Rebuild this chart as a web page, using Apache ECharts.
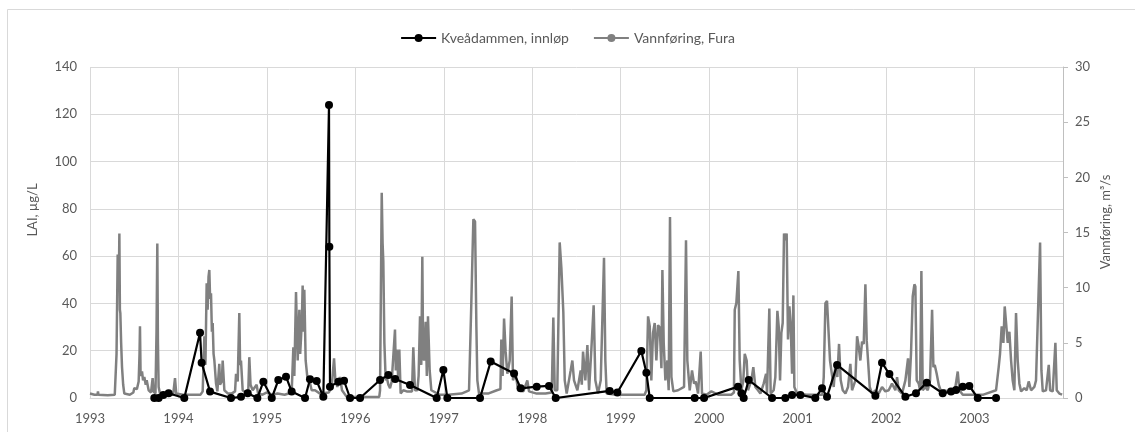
<!DOCTYPE html>
<html>
<head>
<meta charset="utf-8">
<script src="https://cdn.jsdelivr.net/npm/echarts@6/dist/echarts.min.js"></script>
<style>
html,body{margin:0;padding:0;background:#fff;}
#chart{width:1135px;height:432px;}
</style>
</head>
<body>
<div id="chart"></div>
<script>
// ---- DATA ----
const yearLabels = ['1993','1994','1995','1996','1997','1998','1999','2000','2001','2002','2003'];
const laiName = 'Kveådammen, innløp';
const flowName = 'Vannføring, Fura';

// LAI (µg/L) samples: [decimal year, value]
const laiData = [
  [1993.727,0],[1993.776,0],[1993.829,1.3],[1993.889,2],[1994.066,0],
  [1994.244,27.6],[1994.262,14.9],[1994.357,2.7],[1994.594,0],[1994.707,0.5],[1994.783,2],
  [1994.892,0],[1994.960,6.9],[1995.055,0],[1995.129,7.6],[1995.216,9.0],[1995.280,2.7],
  [1995.431,0],[1995.487,7.9],[1995.563,7.2],[1995.638,0.5],[1995.702,123.9],[1995.706,64],
  [1995.713,4.8],[1995.808,6.9],[1995.872,7.3],[1995.940,0],[1996.053,0],[1996.279,7.6],
  [1996.373,9.7],[1996.450,8],[1996.618,5.5],
  [1996.919,0],[1996.995,11.8],[1997.040,0],[1997.409,0],[1997.530,15.4],[1997.794,10.4],
  [1997.869,4.1],[1998.050,4.8],[1998.189,5.1],[1998.265,0],
  [1998.875,3.0],[1998.962,2.3],[1999.233,19.9],[1999.290,10.7],[1999.328,0],
  [1999.836,0],[1999.942,0],[2000.326,4.8],[2000.364,2],
  [2000.390,0],[2000.447,7.6],[2000.711,0],[2000.861,0],[2000.937,1.3],[2001.031,1.3],
  [2001.200,0],[2001.276,4.1],[2001.332,0.5],[2001.446,14],[2001.879,1],[2001.954,14.9],
  [2002.037,10.1],[2002.218,0.5],
  [2002.338,2],[2002.460,6.5],[2002.640,2],[2002.734,2.7],[2002.791,3.4],[2002.867,4.8],
  [2002.941,5.1],[2003.036,0],[2003.243,0]
];

// Flow (m³/s) samples: [decimal year, value]
const flowData = [
  [1993.000,0.4],[1993.050,0.3],[1993.085,0.3],[1993.090,0.6],[1993.095,0.3],[1993.200,0.25],
  [1993.280,0.3],[1993.300,4],[1993.313,13.0],[1993.325,10],[1993.332,14.9],[1993.338,8],
  [1993.343,7.7],[1993.352,5],[1993.362,2.8],[1993.375,1.2],[1993.388,0.4],[1993.450,0.3],
  [1993.490,0.5],[1993.501,0.9],[1993.530,0.8],[1993.550,1.5],[1993.560,4],[1993.565,6.5],
  [1993.572,2],[1993.588,2.4],[1993.600,1.6],[1993.614,1.9],[1993.630,1.2],[1993.641,1.6],
  [1993.663,0.7],[1993.690,0.5],[1993.708,1.8],[1993.718,0.6],[1993.727,0.5],[1993.740,0.4],
  [1993.752,6],[1993.761,14.0],[1993.768,5],[1993.776,1.0],[1993.791,0.4],[1993.850,0.3],
  [1993.940,0.3],[1993.961,1.8],[1993.975,0.4],[1994.050,0.3],[1994.150,0.3],[1994.250,0.3],
  [1994.274,0.6],[1994.293,5.6],[1994.305,3],[1994.319,10.4],[1994.330,8],[1994.340,11.0],
  [1994.349,11.6],[1994.358,9],[1994.368,9.5],[1994.378,6],[1994.387,6.8],[1994.397,4],
  [1994.406,3.4],[1994.425,1.3],[1994.440,0.6],[1994.462,3.1],[1994.470,1.2],[1994.490,1.5],
  [1994.500,3.4],[1994.519,0.7],[1994.560,0.4],[1994.600,0.4],[1994.640,0.6],[1994.651,2.2],
  [1994.670,1.5],[1994.688,7.7],[1994.697,3],[1994.707,3.4],[1994.726,0.7],[1994.760,0.5],
  [1994.790,0.8],[1994.801,3.7],[1994.815,1.2],[1994.839,0.7],[1994.884,1.2],[1994.900,0.4],
  [1994.950,0.3],[1995.000,0.5],[1995.060,0.3],[1995.120,0.4],[1995.200,0.3],
  [1995.280,0.5],[1995.299,4.6],[1995.310,2],[1995.329,9.6],[1995.348,3.4],[1995.367,8.0],
  [1995.376,4],[1995.386,5.5],[1995.395,7],[1995.404,10.2],[1995.413,6],[1995.423,9.8],
  [1995.438,3.4],[1995.457,1.9],[1995.480,1.6],[1995.506,0.7],[1995.544,0.7],[1995.600,0.4],
  [1995.700,0.5],[1995.732,1.0],[1995.759,3.6],[1995.774,1.6],[1995.796,1.0],[1995.826,1.9],
  [1995.849,0.7],[1995.902,0.1],[1996.000,0.1],[1996.270,0.1],[1996.279,0.7],[1996.298,18.6],
  [1996.308,14],[1996.316,12.4],[1996.328,5.0],[1996.343,1.6],[1996.354,1.9],[1996.373,1.2],
  [1996.392,0.9],[1996.411,1.5],[1996.429,1.6],[1996.448,6.2],[1996.457,2.5],[1996.467,4.4],
  [1996.486,1.6],[1996.497,4.4],[1996.512,0.4],[1996.542,0.7],[1996.580,0.6],[1996.640,0.6],
  [1996.655,4.6],[1996.674,0.7],[1996.701,0.7],[1996.715,2],[1996.731,7.4],[1996.745,3],
  [1996.757,12.8],[1996.766,4],[1996.776,3.4],[1996.795,6.9],[1996.808,2],[1996.821,7.4],
  [1996.840,2.5],[1996.859,0.7],[1996.950,0.3],[1997.050,0.3],[1997.200,0.4],[1997.285,0.7],
  [1997.311,8.6],[1997.334,16.2],[1997.353,16.0],[1997.368,6.5],[1997.379,1.6],[1997.398,0.4],
  [1997.500,0.4],[1997.600,0.7],[1997.640,0.8],[1997.650,5.3],[1997.665,2],[1997.681,7.2],
  [1997.699,4.2],[1997.718,2.2],[1997.745,3.4],[1997.767,9.2],[1997.782,1.6],[1997.813,2.2],
  [1997.839,0.7],[1997.900,0.6],[1997.944,1.6],[1997.963,0.6],[1998.050,0.4],[1998.150,0.4],
  [1998.220,0.5],[1998.238,7.3],[1998.254,0.7],[1998.283,0.7],[1998.310,14.1],[1998.329,11.8],
  [1998.351,7.8],[1998.367,1.6],[1998.389,0.4],[1998.434,2.5],[1998.453,3.4],[1998.472,1.6],
  [1998.510,0.7],[1998.547,2.5],[1998.560,1.2],[1998.574,4.2],[1998.600,1.6],[1998.623,4.8],
  [1998.642,0.7],[1998.668,4.4],[1998.694,8.4],[1998.713,1.6],[1998.743,0.4],[1998.774,1.6],
  [1998.811,12.7],[1998.826,3.4],[1998.841,0.4],[1998.950,0.3],[1999.100,0.3],[1999.270,0.3],
  [1999.290,0.7],[1999.309,7.4],[1999.328,6.5],[1999.346,1.6],[1999.365,5.9],[1999.384,6.8],
  [1999.403,3.4],[1999.422,6.6],[1999.441,6.4],[1999.460,2.7],[1999.471,11.6],[1999.486,5.0],
  [1999.505,1.6],[1999.527,3.4],[1999.542,0.7],[1999.557,16.4],[1999.573,1.9],[1999.595,0.6],
  [1999.648,0.7],[1999.716,1.0],[1999.738,14.3],[1999.753,3.4],[1999.780,0.7],[1999.806,2.5],
  [1999.829,1.3],[1999.848,1.5],[1999.874,0.4],[1999.904,4.2],[1999.919,0.4],[1999.970,0.3],
  [2000.025,0.6],[2000.100,0.3],[2000.250,0.3],[2000.280,0.5],[2000.289,8.0],[2000.307,8.6],
  [2000.330,11.5],[2000.345,3.4],[2000.364,0.7],[2000.385,1.5],[2000.402,4.0],[2000.424,3.4],
  [2000.439,0.7],[2000.477,1.6],[2000.499,2.8],[2000.522,1.0],[2000.552,0.7],[2000.579,0.4],
  [2000.616,1.3],[2000.643,2.2],[2000.654,0.4],[2000.680,8.1],[2000.695,0.4],[2000.729,0.7],
  [2000.748,1.9],[2000.771,7.9],[2000.786,6.5],[2000.801,1.6],[2000.816,5.9],[2000.831,6.8],
  [2000.846,14.9],[2000.861,14.3],[2000.876,14.9],[2000.891,5.3],[2000.907,8.3],[2000.922,6.5],
  [2000.937,2.2],[2000.952,9.3],[2000.963,1.0],[2000.993,0.4],[2001.100,0.3],[2001.280,0.3],
  [2001.295,1.9],[2001.314,8.6],[2001.332,8.8],[2001.351,8.9],[2001.366,3.4],[2001.381,2.5],
  [2001.408,1.0],[2001.427,3.1],[2001.449,1.9],[2001.468,4.9],[2001.487,1.6],[2001.510,0.7],
  [2001.540,0.4],[2001.570,1.0],[2001.596,3.1],[2001.615,0.7],[2001.653,1.6],[2001.672,5.6],
  [2001.690,4.7],[2001.709,3.4],[2001.728,5.1],[2001.747,4.9],[2001.766,10.3],[2001.781,5.2],
  [2001.796,3.4],[2001.815,1.0],[2001.841,0.4],[2001.879,0.7],[2001.916,0.4],[2001.954,1.0],
  [2001.992,0.6],[2002.029,0.7],[2002.067,1.3],[2002.105,0.7],[2002.124,1.9],[2002.143,0.7],
  [2002.180,0.4],[2002.218,1.6],[2002.248,3.6],[2002.263,1.0],[2002.282,4.1],[2002.301,9.2],
  [2002.320,10.3],[2002.331,10.1],[2002.346,1.6],[2002.369,1.3],[2002.384,0.7],[2002.399,11.5],
  [2002.414,0.7],[2002.444,1.0],[2002.471,0.7],[2002.497,1.6],[2002.520,8.0],[2002.535,2.8],
  [2002.550,3.0],[2002.572,2.2],[2002.595,1.2],[2002.621,0.6],[2002.659,0.7],[2002.697,0.6],
  [2002.734,0.7],[2002.772,0.4],[2002.810,2.4],[2002.829,0.7],[2002.867,0.3],[2003.000,0.3],
  [2003.100,0.3],[2003.243,0.7],[2003.273,2.8],[2003.288,4.0],[2003.307,6.5],[2003.326,5.0],
  [2003.341,8.3],[2003.356,8.2],[2003.375,5.0],[2003.394,6.0],[2003.413,3.4],[2003.431,1.6],
  [2003.450,0.7],[2003.469,7.7],[2003.488,3.4],[2003.507,1.3],[2003.526,0.6],[2003.563,0.9],
  [2003.590,0.7],[2003.612,1.5],[2003.639,0.7],[2003.676,1.0],[2003.695,1.6],[2003.726,10.1],
  [2003.741,14.1],[2003.756,2.5],[2003.771,0.6],[2003.808,0.7],[2003.839,3.0],[2003.854,0.7],
  [2003.884,0.6],[2003.914,5.0],[2003.929,0.7],[2003.959,0.4],[2003.990,0.3]
];

// ---- CHART ----
const FONT = 'Lato, "Open Sans", sans-serif';
const TXT = '#595959';
const chart = echarts.init(document.getElementById('chart'), null, {renderer:'canvas'});
chart.setOption({
  animation: false,
  backgroundColor: '#fff',
  textStyle: {fontFamily: FONT},
  graphic: [
    {type:'rect', shape:{x:7.5, y:9.5, width:1140, height:440}, style:{fill:'none', stroke:'#d9d9d9', lineWidth:1}, silent:true},
    {type:'text', x:33, y:210, rotation:Math.PI/2,
     style:{text:'LAI, µg/L', fill:TXT, font:'13px ' + FONT, textAlign:'center', textVerticalAlign:'middle'}},
    {type:'text', x:1106, y:222, rotation:Math.PI/2,
     style:{text:'Vannføring, m³/s', fill:TXT, font:'13px ' + FONT, textAlign:'center', textVerticalAlign:'middle'}}
  ],
  legend: {
    top: 26, left: 'center',
    data: [laiName, flowName],
    itemWidth: 35, itemHeight: 10, itemGap: 24,
    textStyle: {color: TXT, fontSize: 14, fontFamily: FONT}
  },
  grid: {left: 90, right: 72, top: 67, bottom: 34},
  xAxis: {
    type: 'value', min: 1993, max: 2004, interval: 1,
    axisLine: {show: true, lineStyle: {color: '#d9d9d9'}},
    axisTick: {show: false},
    splitLine: {show: true, lineStyle: {color: '#d9d9d9', width: 1}},
    axisLabel: {color: TXT, fontSize: 13, fontFamily: FONT, margin: 14, showMaxLabel: false,
      formatter: v => yearLabels[Math.round(v - 1993)] || ''}
  },
  yAxis: [
    {
      type: 'value', min: 0, max: 140, interval: 20, position: 'left',
      axisLine: {show: false}, axisTick: {show: false},
      splitLine: {show: true, lineStyle: {color: '#d9d9d9', width: 1}},
      axisLabel: {color: TXT, fontSize: 13, fontFamily: FONT, margin: 13}
    },
    {
      type: 'value', min: 0, max: 30, interval: 5, position: 'right',
      axisLine: {show: true, lineStyle: {color: '#bfbfbf'}},
      axisTick: {show: true, inside: false, length: 5, lineStyle: {color: '#bfbfbf'}},
      splitLine: {show: false},
      axisLabel: {color: TXT, fontSize: 13, fontFamily: FONT, margin: 12}
    }
  ],
  series: [
    {
      name: flowName, type: 'line', yAxisIndex: 1, data: flowData,
      showSymbol: false, symbol: 'none',
      lineStyle: {color: '#808080', width: 2.5}, itemStyle: {color: '#808080'}, z: 2
    },
    {
      name: laiName, type: 'line', yAxisIndex: 0, data: laiData,
      symbol: 'circle', symbolSize: 8, showSymbol: true,
      lineStyle: {color: '#000', width: 2.2}, itemStyle: {color: '#000'}, z: 3
    }
  ]
});
</script>
</body>
</html>
